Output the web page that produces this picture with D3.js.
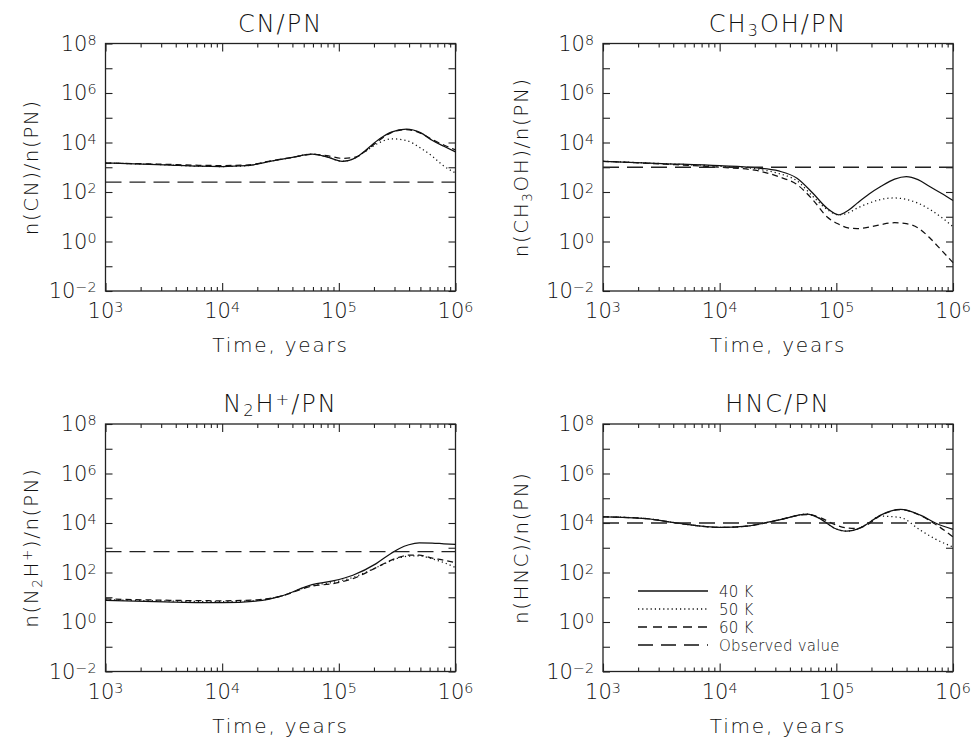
<!DOCTYPE html>
<html>
<head>
<meta charset="utf-8">
<script src="https://cdn.jsdelivr.net/npm/d3@7"></script>
<style>
  body { margin: 0; background: #fff; }
  text { font-family: "DejaVu Sans", "Liberation Sans", Arial, sans-serif; font-weight: 200; fill: #111; }
</style>
</head>
<body>
<script>
// ---- data (time in years, abundance ratios) ----
var timeCN = [1000, 3200, 6300, 10000, 16000, 27000, 40000, 59000, 79000, 107000, 141000, 170000, 224000, 282000, 380000, 500000, 630000, 794000, 1000000];
var cn40 = [1480, 1260, 1100, 1070, 1150, 1820, 2510, 3390, 2630, 1740, 2510, 4900, 14100, 26300, 34700, 25100, 12300, 7080, 4170];
var cn50 = [1480, 1260, 1100, 1070, 1150, 1820, 2510, 3390, 2630, 1740, 2510, 4470, 10000, 14100, 12000, 6030, 2820, 1120, 589];
var cn60 = [1480, 1320, 1200, 1170, 1230, 1860, 2510, 3310, 2950, 2290, 2630, 4570, 12600, 25100, 33100, 24000, 13200, 7940, 5010];
var cnObs = 250;

var timeMe = [1000, 3200, 10000, 20000, 32000, 46000, 63000, 83000, 105000, 126000, 151000, 191000, 240000, 316000, 398000, 501000, 631000, 794000, 1000000];
var me40 = [1740, 1410, 1150, 955, 708, 363, 89, 22.4, 12, 17.8, 35.5, 83, 166, 331, 417, 316, 166, 89, 45.7];
var me50 = [1740, 1410, 1100, 871, 562, 282, 66, 20, 12, 14.1, 22.4, 35.5, 50, 57.5, 50, 35.5, 20, 9.5, 4.0];
var me60 = [1740, 1350, 1000, 759, 417, 200, 47.9, 10, 5.0, 3.55, 3.31, 3.8, 4.8, 5.75, 5.25, 3.55, 1.41, 0.45, 0.14];
var meObs = 1000;

var timeN2 = [1000, 3200, 10000, 20000, 32000, 59000, 89000, 132000, 209000, 282000, 331000, 398000, 490000, 631000, 794000, 1000000];
var n40 = [7.4, 6.5, 6.0, 7.1, 11.2, 32.4, 45.7, 77.6, 229, 603, 933, 1320, 1580, 1550, 1450, 1380];
var n50 = [7.9, 7.1, 6.6, 7.4, 11.2, 30.2, 39.8, 63.1, 158, 302, 398, 457, 468, 355, 251, 158];
var n60 = [8.5, 7.6, 7.2, 7.9, 11.2, 28.2, 35.5, 56.2, 158, 316, 417, 501, 501, 380, 316, 251];
var nObs = 700;

var timeHNC = [1000, 2340, 4570, 10000, 17000, 33100, 56200, 72400, 95500, 123000, 151000, 182000, 240000, 355000, 525000, 708000, 1000000];
var h40 = [17800, 15100, 9550, 6610, 7410, 13800, 22900, 15100, 6310, 4680, 5620, 8910, 20900, 35500, 20900, 10000, 5500];
var h50 = [17800, 15100, 9550, 6610, 7410, 13800, 22900, 15100, 6310, 4680, 5620, 8910, 19000, 16600, 5130, 2240, 1070];
var h60 = [17800, 15100, 9550, 6610, 7410, 13800, 21900, 16600, 8910, 6310, 6030, 8320, 20000, 34700, 20000, 8910, 2750];
var hObs = 10000;

var xTickExp = [3, 4, 5, 6];
var yTickExp = [8, 6, 4, 2, 0, -2];
var legendLabels = ["40 K", "50 K", "60 K", "Observed value"];

// ---- styles ----
var dashes = ["none", "1.2,3", "6,4", "16,8"];
var legendDashes = ["none", "1.2,3", "9,6", "15,8"];

var panels = [
  {left: 105.5, top: 43.5, time: timeCN, series: [cn40, cn50, cn60], obs: cnObs,
   title: [["CN/PN", 0]], ylab: [["n(CN)/n(PN)", 0]], ylx: 31},
  {left: 603, top: 43.5, time: timeMe, series: [me40, me50, me60], obs: meObs,
   title: [["CH", 0], ["3", -1], ["OH/PN", 0]], ylab: [["n(CH", 0], ["3", -1], ["OH)/n(PN)", 0]], ylx: 521},
  {left: 105.5, top: 424, time: timeN2, series: [n40, n50, n60], obs: nObs,
   title: [["N", 0], ["2", -1], ["H", 0], ["+", 1], ["/PN", 0]], ylab: [["n(N", 0], ["2", -1], ["H", 0], ["+", 1], [")/n(PN)", 0]], ylx: 31},
  {left: 603, top: 424, time: timeHNC, series: [h40, h50, h60], obs: hObs,
   title: [["HNC/PN", 0]], ylab: [["n(HNC)/n(PN)", 0]], ylx: 521, legend: true}
];

var pw = 350, ph = 247.5;

var svg = d3.select("body")
  .append("svg")
    .attr("width", 975)
    .attr("height", 742);

// append text with sub/superscript pieces
function richText(sel, parts, size) {
  parts.forEach(function(p) {
    var t = sel.append("tspan").text(p[0]);
    if (p[1] !== 0) {
      t.attr("font-size", size * 0.68)
       .attr("baseline-shift", p[1] < 0 ? "-28%" : "45%");
    }
  });
}

panels.forEach(function(p) {
  var x = d3.scaleLog().domain([1e3, 1e6]).range([p.left, p.left + pw]);
  var y = d3.scaleLog().domain([1e-2, 1e8]).range([p.top + ph, p.top]);
  var bottom = p.top + ph;

  var g = svg.append("g");

  // minor/major ticks on all four sides
  var xMinor = [];
  for (var e = 3; e < 6; e++) for (var m = 2; m < 10; m++) xMinor.push(m * Math.pow(10, e));
  var xMajor = xTickExp.map(function(k) { return Math.pow(10, k); });
  var yMinor = [1e7, 1e5, 1e3, 1e1, 1e-1];
  var yMajor = yTickExp.map(function(k) { return Math.pow(10, k); });

  function ax(axisFn, scale, vals, size, pos, horizontal) {
    var a = axisFn(scale).tickValues(vals).tickSize(size).tickFormat("");
    var gg = g.append("g")
      .attr("transform", horizontal ? "translate(0," + pos + ")" : "translate(" + pos + ",0)")
      .call(a);
    gg.select(".domain").remove();
    gg.selectAll("line").attr("stroke", "#222").attr("stroke-width", 1.1);
  }
  ax(d3.axisBottom, x, xMajor, -8, bottom, true);
  ax(d3.axisBottom, x, xMinor, -4, bottom, true);
  ax(d3.axisTop, x, xMajor, -8, p.top, true);
  ax(d3.axisTop, x, xMinor, -4, p.top, true);
  ax(d3.axisLeft, y, yMajor.concat(yMinor), -7, p.left, false);
  ax(d3.axisRight, y, yMajor.concat(yMinor), -7, p.left + pw, false);

  g.append("rect")
    .attr("x", p.left).attr("y", p.top)
    .attr("width", pw).attr("height", ph)
    .attr("fill", "none").attr("stroke", "#222").attr("stroke-width", 1.3);

  // tick labels
  xTickExp.forEach(function(k) {
    var t = g.append("text")
      .attr("x", x(Math.pow(10, k)))
      .attr("y", bottom + 27)
      .attr("text-anchor", "middle")
      .attr("font-size", 21);
    richText(t, [["10", 0], [String(k), 1]], 21);
  });
  yTickExp.forEach(function(k) {
    var t = g.append("text")
      .attr("x", p.left - 9)
      .attr("y", y(Math.pow(10, k)) + 7)
      .attr("text-anchor", "end")
      .attr("font-size", 21);
    richText(t, [["10", 0], [k < 0 ? "\u2212" + (-k) : String(k), 1]], 21);
  });

  // axis titles
  g.append("text")
    .attr("x", p.left + pw / 2)
    .attr("y", bottom + 61)
    .attr("text-anchor", "middle")
    .attr("font-size", 20)
    .attr("letter-spacing", 1.8)
    .text("Time, years");

  var yl = g.append("text")
    .attr("transform", "translate(" + p.ylx + "," + (p.top + ph / 2) + ") rotate(-90)")
    .attr("dy", "0.35em")
    .attr("text-anchor", "middle")
    .attr("font-size", 20)
    .attr("letter-spacing", 1.5);
  richText(yl, p.ylab, 20);

  var tt = g.append("text")
    .attr("x", p.left + pw / 2)
    .attr("y", p.top - 12)
    .attr("text-anchor", "middle")
    .attr("font-size", 24)
    .attr("letter-spacing", 2);
  richText(tt, p.title, 24);

  // curves
  var line = d3.line()
    .x(function(d) { return x(d[0]); })
    .y(function(d) { return y(d[1]); })
    .curve(d3.curveMonotoneX);

  p.series.forEach(function(vals, i) {
    g.append("path")
      .datum(p.time.map(function(t, j) { return [t, vals[j]]; }))
      .attr("d", line)
      .attr("fill", "none")
      .attr("stroke", "#111")
      .attr("stroke-width", 1.25)
      .attr("stroke-dasharray", dashes[i]);
  });

  g.append("path")
    .datum([[1e3, p.obs], [1e6, p.obs]])
    .attr("d", line)
    .attr("fill", "none")
    .attr("stroke", "#222")
    .attr("stroke-width", 1.3)
    .attr("stroke-dasharray", dashes[3]);

  if (p.legend) {
    legendLabels.forEach(function(lab, i) {
      var ly = 591 + i * 18;
      g.append("line")
        .attr("x1", p.left + 35).attr("x2", p.left + 105)
        .attr("y1", ly).attr("y2", ly)
        .attr("stroke", "#111").attr("stroke-width", 1.3)
        .attr("stroke-dasharray", legendDashes[i]);
      g.append("text")
        .attr("x", p.left + 116).attr("y", ly + 5.5)
        .attr("font-size", 15)
        .attr("letter-spacing", 0.2)
        .text(lab);
    });
  }
});
</script>
</body>
</html>
